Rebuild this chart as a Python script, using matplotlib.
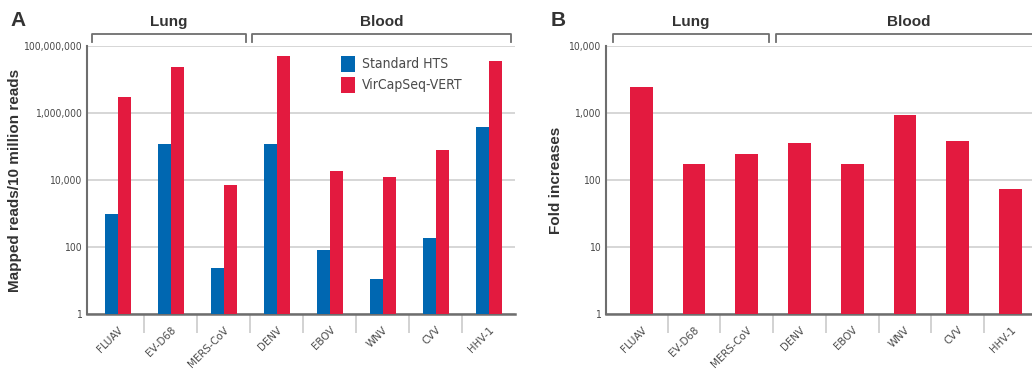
import numpy as np
import matplotlib
matplotlib.use("Agg")
import matplotlib.pyplot as plt
import matplotlib.transforms as mtransforms
from matplotlib.ticker import FixedLocator, FuncFormatter

plt.rcParams['font.family'] = ['DejaVu Sans']
plt.rcParams['font.stretch'] = 'condensed'

viruses = ['FLUAV', 'EV-D68', 'MERS-CoV', 'DENV', 'EBOV', 'WNV', 'CVV', 'HHV-1']
standard_hts = [1000, 120000, 24, 120000, 83, 11, 190, 390000]
vircapseq = [2900000, 24000000, 7300, 48000000, 18000, 12600, 80000, 34000000]
fold_increase = [2460, 175, 246, 350, 175, 940, 385, 74]

blue = '#0067b1'
red = '#e31a3f'
grid_c = '#cfcfcf'
spine_c = '#6e6e6e'
text_c = '#4a4a4a'
bold_font = ['Liberation Sans', 'DejaVu Sans']

fig = plt.figure(figsize=(10.32, 3.71), dpi=100)
bot, top = 1 - 314.3 / 371, 1 - 45.7 / 371
axA = fig.add_axes([87 / 1032, bot, (515 - 87) / 1032, top - bot])
axB = fig.add_axes([606 / 1032, bot, (1032 - 606) / 1032, top - bot])

x = np.arange(len(viruses))
w = 0.25
axA.bar(x - w / 2, standard_hts, w, color=blue, label='Standard HTS', zorder=3)
axA.bar(x + w / 2, vircapseq, w, color=red, label='VirCapSeq-VERT', zorder=3)
axB.bar(x, fold_increase, 0.43, color=red, zorder=3)


def fmt(v, pos):
    return f'{int(round(v)):,}'


shift = mtransforms.ScaledTranslation(-6 / 100, 0, fig.dpi_scale_trans)


def style(ax, ylim, ticks, xlim):
    ax.set_yscale('log')
    ax.set_ylim(*ylim)
    ax.set_xlim(*xlim)
    ax.yaxis.set_major_locator(FixedLocator(ticks))
    ax.yaxis.set_minor_locator(FixedLocator([]))
    ax.yaxis.set_major_formatter(FuncFormatter(fmt))
    ax.grid(axis='y', color=grid_c, lw=1.2, zorder=0)
    ax.set_axisbelow(True)
    for s in ['top', 'right']:
        ax.spines[s].set_visible(False)
    ax.spines['left'].set_color(spine_c)
    ax.spines['left'].set_linewidth(1.5)
    ax.spines['bottom'].set_color(spine_c)
    ax.spines['bottom'].set_linewidth(1.8)
    ax.tick_params(axis='y', length=0, labelsize=7.5, labelcolor=text_c, pad=4)
    ax.set_xticks(x)
    ax.set_xticklabels(viruses, rotation=45, ha='right', va='top',
                       rotation_mode='anchor', fontsize=8.2, color=text_c)
    for lab in ax.get_xticklabels():
        lab.set_transform(lab.get_transform() + shift)
    ax.tick_params(axis='x', which='major', length=0, pad=7.5)
    ax.set_xticks(x[:-1] + 0.5, minor=True)
    ax.tick_params(axis='x', which='minor', length=14, width=1.3, color=grid_c)


style(axA, (1, 1e8), [1, 100, 1e4, 1e6, 1e8], (-0.58, 7.49))
style(axB, (1, 1e4), [1, 10, 100, 1000, 1e4], (-0.67, 7.41))

axA.set_ylabel('Mapped reads/10 million reads', fontsize=11, fontweight='bold',
               color='#333333', family=bold_font, stretch='normal')
axA.yaxis.set_label_coords(-0.152, 0.5)
axB.set_ylabel('Fold increases', fontsize=11, fontweight='bold',
               color='#333333', family=bold_font, stretch='normal')
axB.yaxis.set_label_coords(-0.101, 0.5)

leg = axA.legend(loc='upper left', bbox_to_anchor=(0.58, 0.983), frameon=False,
                 fontsize=10, handlelength=1.05, handleheight=1.4, handletextpad=0.5,
                 labelspacing=0.35, borderaxespad=0)
for t in leg.get_texts():
    t.set_color(text_c)


def bracket(ax, x0, x1, label):
    tr = mtransforms.blended_transform_factory(ax.transData, ax.transAxes)
    ax.plot([x0, x0, x1, x1], [1.012, 1.044, 1.044, 1.012], color=spine_c, lw=1.3,
            transform=tr, clip_on=False)
    ax.text((x0 + x1) / 2, 1.09, label, transform=tr, ha='center', va='center',
            fontsize=11, fontweight='bold', color='#333333', family=bold_font,
            stretch='normal')


bracket(axA, -0.49, 2.42, 'Lung')
bracket(axA, 2.53, 7.42, 'Blood')
bracket(axB, -0.54, 2.42, 'Lung')
bracket(axB, 2.55, 7.6, 'Blood')

fig.text(10 / 1032, 1 - 21 / 371, 'A', fontsize=15, fontweight='bold', color='#333333',
         va='center', family=bold_font, stretch='normal')
fig.text(551 / 1032, 1 - 21 / 371, 'B', fontsize=15, fontweight='bold', color='#333333',
         va='center', family=bold_font, stretch='normal')

fig.savefig('out.png', dpi=100)
